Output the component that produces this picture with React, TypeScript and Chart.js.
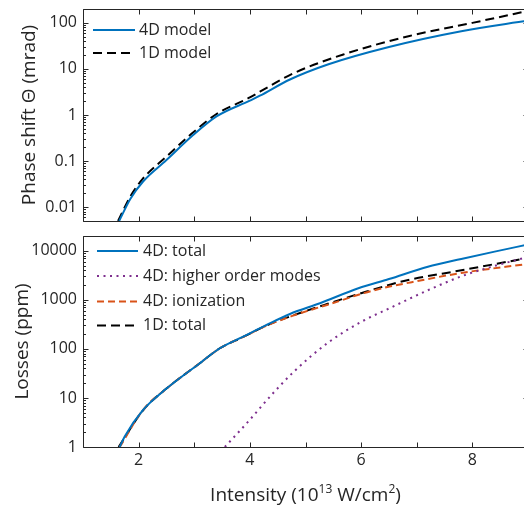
import React, { useEffect, useRef } from "react";
import { Chart, registerables } from "chart.js";
Chart.register(...registerables);

const FONT = "'Open Sans', 'Noto Sans', sans-serif";
const TEXT = "#262626";
const AXIS = "#262626";

// ---------- shared x axis ----------
const xTicks = [1, 2, 3, 4, 5, 6, 7, 8, 9];
const xTickLabels = ["", "2", "", "4", "", "6", "", "8", ""];

// ---------- top panel: phase shift ----------
const phaseTicks = [0.01, 0.1, 1, 10, 100];
const phaseTickLabels = ["0.01", "0.1", "1", "10", "100"];

const phase4DX = [1.65, 1.85, 2.08, 2.5, 2.95, 3.4, 4.0, 4.18, 4.72, 5.4, 6.5, 7.8, 9.0];
const phase4DY = [0.005, 0.015, 0.036, 0.105, 0.34, 0.93, 2.05, 2.62, 5.9, 12.5, 30, 66, 112];

const phase1DX = [1.63, 1.85, 2.08, 2.5, 2.95, 3.4, 4.0, 4.18, 4.78, 5.68, 6.87, 8.0, 9.0];
const phase1DY = [0.005, 0.017, 0.042, 0.125, 0.39, 1.05, 2.4, 3.2, 8.0, 20.6, 52, 100, 182];

// ---------- bottom panel: losses ----------
const lossTicks = [1, 10, 100, 1000, 10000];
const lossTickLabels = ["1", "10", "100", "1000", "10000"];

const loss4DX = [1.66, 1.75, 2.08, 2.5, 3.1, 3.46, 3.88, 4.3, 4.72, 5.26, 5.95, 6.5, 7.2, 7.8, 8.4, 9.0];
const loss4DY = [1, 1.64, 5.7, 15.5, 51, 103, 178, 308, 515, 851, 1720, 2650, 4730, 6800, 9600, 13400];

const lossHigherX = [3.55, 4.0, 4.22, 4.42, 4.81, 5.41, 6.01, 6.51, 7.21, 7.83, 8.31, 9.0];
const lossHigherY = [1, 3.6, 7.0, 12.6, 36, 135, 360, 673, 1585, 3100, 4590, 7500];

const lossIonX = [1.66, 2.08, 2.5, 3.1, 3.46, 3.88, 4.3, 4.75, 5.59, 6.01, 6.34, 7.0, 7.83, 9.0];
const lossIonY = [1, 5.7, 15.5, 51, 103, 175, 298, 465, 930, 1330, 1680, 2400, 3570, 5400];

const loss1DX = [1.64, 2.08, 2.5, 3.1, 3.46, 3.88, 4.3, 4.75, 5.4, 6.1, 6.79, 7.83, 9.0];
const loss1DY = [1, 5.6, 15.5, 51, 103, 175, 300, 470, 830, 1480, 2450, 4050, 7150];

const pts = (xs: number[], ys: number[]) => xs.map((x, i) => ({ x, y: ys[i] }));

const framePlugin = {
  id: "frame",
  afterDatasetsDraw(chart: any) {
    const { ctx, chartArea } = chart;
    const { left, right, top, bottom } = chartArea;
    const xs = chart.scales.x;
    const ys = chart.scales.y;
    const L = Math.round(left) + 0.5;
    const R = Math.round(right) + 0.5;
    const T = Math.round(top) + 0.5;
    const B = Math.round(bottom) + 0.5;
    ctx.save();
    ctx.strokeStyle = AXIS;
    ctx.lineWidth = 1;
    ctx.beginPath();
    ctx.rect(L, T, R - L, B - T);
    for (const v of xTicks) {
      const p = Math.round(xs.getPixelForValue(v)) + 0.5;
      ctx.moveTo(p, B);
      ctx.lineTo(p, B - 5);
      ctx.moveTo(p, T);
      ctx.lineTo(p, T + 5);
    }
    const lo = Math.floor(Math.log10(ys.min));
    const hi = Math.ceil(Math.log10(ys.max));
    for (let d = lo; d <= hi; d++) {
      for (let m = 1; m <= 9; m++) {
        const v = m * Math.pow(10, d);
        if (v < ys.min * 0.999 || v > ys.max * 1.001) continue;
        const p = Math.round(ys.getPixelForValue(v)) + 0.5;
        const len = m === 1 ? 5 : 2.5;
        ctx.moveTo(L, p);
        ctx.lineTo(L + len, p);
        ctx.moveTo(R, p);
        ctx.lineTo(R - len, p);
      }
    }
    ctx.stroke();
    ctx.restore();
  },
};

const legendPlugin = {
  id: "inlegend",
  afterDraw(chart: any, _args: any, opts: any) {
    const { ctx, chartArea } = chart;
    chart.data.datasets.forEach((ds: any, i: number) => {
      const y = chartArea.top + opts.rowY[i];
      ctx.save();
      ctx.strokeStyle = ds.borderColor;
      ctx.lineWidth = ds.borderWidth;
      ctx.setLineDash(ds.borderDash || []);
      ctx.beginPath();
      ctx.moveTo(chartArea.left + opts.lineX0, y);
      ctx.lineTo(chartArea.left + opts.lineX1, y);
      ctx.stroke();
      ctx.setLineDash([]);
      ctx.fillStyle = TEXT;
      ctx.font = `16px ${FONT}`;
      ctx.textBaseline = "middle";
      ctx.textAlign = "left";
      ctx.fillText(ds.label, chartArea.left + opts.textX, y);
      ctx.restore();
    });
  },
};

function makeConfig(p: {
  datasets: any[];
  yMin: number;
  yMax: number;
  yTicks: number[];
  yLabels: string[];
  yTitle: string;
  titlePad: number;
  padTop: number;
  xHeight: number;
  showX: boolean;
  legend: any;
}): any {
  return {
    type: "line",
    data: { datasets: p.datasets },
    plugins: [framePlugin, legendPlugin],
    options: {
      animation: false,
      responsive: false,
      devicePixelRatio: 1,
      layout: { padding: { top: p.padTop, right: 1, left: 0, bottom: 0 } },
      elements: { point: { radius: 0 }, line: { cubicInterpolationMode: "monotone" } },
      plugins: {
        legend: { display: false },
        tooltip: { enabled: false },
        inlegend: p.legend,
      },
      scales: {
        x: {
          type: "linear",
          min: 1,
          max: 9,
          grid: { display: false, drawTicks: false },
          border: { display: false },
          afterBuildTicks: (s: any) => {
            s.ticks = xTicks.map((v) => ({ value: v }));
          },
          afterFit: (s: any) => {
            s.height = p.xHeight;
            s.paddingLeft = 0;
            s.paddingRight = 0;
          },
          ticks: {
            display: p.showX,
            autoSkip: false,
            maxRotation: 0,
            padding: 4,
            color: TEXT,
            font: { family: FONT, size: 16 },
            callback: (v: number) => {
              const i = xTicks.indexOf(v);
              return i >= 0 ? xTickLabels[i] : "";
            },
          },
        },
        y: {
          type: "logarithmic",
          min: p.yMin,
          max: p.yMax,
          grid: { display: false, drawTicks: false },
          border: { display: false },
          afterBuildTicks: (s: any) => {
            s.ticks = p.yTicks.map((v) => ({ value: v }));
          },
          afterFit: (s: any) => {
            s.width = 83;
            s.paddingTop = 0;
            s.paddingBottom = 0;
          },
          ticks: {
            padding: 6,
            color: TEXT,
            font: { family: FONT, size: 16 },
            callback: (v: number) => {
              const i = p.yTicks.findIndex((t) => Math.abs(t - v) / t < 1e-6);
              return i >= 0 ? p.yLabels[i] : "";
            },
          },
          title: {
            display: true,
            text: p.yTitle,
            color: TEXT,
            font: { family: FONT, size: 19 },
            padding: { top: p.titlePad, bottom: 0 },
          },
        },
      },
    },
  };
}

function PlotCanvas({ cfg, top, width, height }: { cfg: () => any; top: number; width: number; height: number }) {
  const ref = useRef<HTMLCanvasElement>(null);
  useEffect(() => {
    const chart = new Chart(ref.current as HTMLCanvasElement, cfg());
    return () => chart.destroy();
  }, []);
  return (
    <canvas
      ref={ref}
      width={width}
      height={height}
      style={{ position: "absolute", left: 0, top, width, height, display: "block" }}
    />
  );
}

const topConfig = () =>
  makeConfig({
    datasets: [
      { label: "4D model", data: pts(phase4DX, phase4DY), borderColor: "#0072BD", borderWidth: 2 },
      { label: "1D model", data: pts(phase1DX, phase1DY), borderColor: "#000000", borderWidth: 2, borderDash: [9, 5] },
    ],
    yMin: 0.005,
    yMax: 200,
    yTicks: phaseTicks,
    yLabels: phaseTickLabels,
    yTitle: "Phase shift Θ (mrad)",
    titlePad: 18,
    padTop: 9,
    xHeight: 9,
    showX: false,
    legend: { lineX0: 10, lineX1: 52, textX: 56, rowY: [21, 44] },
  });

const bottomConfig = () =>
  makeConfig({
    datasets: [
      { label: "4D: total", data: pts(loss4DX, loss4DY), borderColor: "#0072BD", borderWidth: 2 },
      { label: "4D: higher order modes", data: pts(lossHigherX, lossHigherY), borderColor: "#7E2F8E", borderWidth: 2, borderDash: [2, 4.5] },
      { label: "4D: ionization", data: pts(lossIonX, lossIonY), borderColor: "#D95319", borderWidth: 2, borderDash: [7, 4] },
      { label: "1D: total", data: pts(loss1DX, loss1DY), borderColor: "#000000", borderWidth: 2, borderDash: [9, 5] },
    ],
    yMin: 1,
    yMax: 20000,
    yTicks: lossTicks,
    yLabels: lossTickLabels,
    yTitle: "Losses (ppm)",
    titlePad: 11,
    padTop: 8,
    xHeight: 33,
    showX: true,
    legend: { lineX0: 14, lineX1: 55, textX: 60, rowY: [15, 40, 65.5, 89.5] },
  });

export default function App() {
  return (
    <div
      style={{
        position: "fixed",
        left: 0,
        top: 0,
        width: 524,
        height: 507,
        overflow: "hidden",
        background: "#ffffff",
      }}
    >
      <PlotCanvas cfg={topConfig} top={0} width={529} height={230} />
      <PlotCanvas cfg={bottomConfig} top={228} width={529} height={252} />
      <div
        style={{
          position: "absolute",
          top: 485,
          left: 83,
          width: 445,
          textAlign: "center",
          fontFamily: FONT,
          fontSize: 19,
          lineHeight: 1,
          color: TEXT,
          whiteSpace: "nowrap",
        }}
      >
        Intensity (10
        <span style={{ fontSize: 12, position: "relative", top: -8 }}>13</span> W/cm
        <span style={{ fontSize: 12, position: "relative", top: -8 }}>2</span>)
      </div>
    </div>
  );
}
